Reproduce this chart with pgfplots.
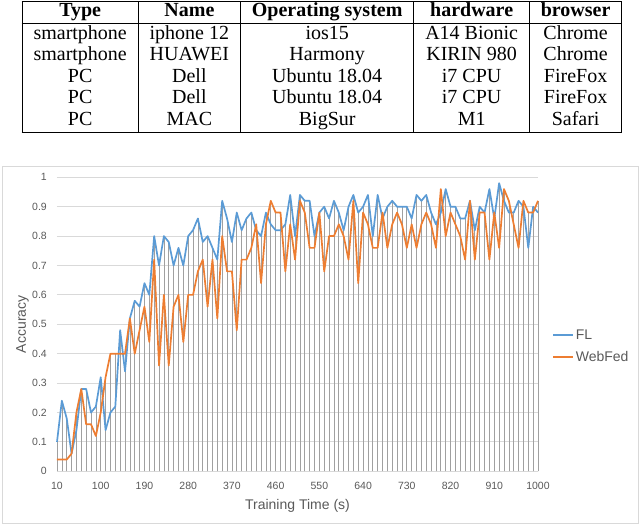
\documentclass[border=0pt]{standalone}
\usepackage{fontspec}
\setmainfont{Liberation Serif}
\newfontfamily\chartfont{Liberation Sans}
\usepackage{pgfplots}
\usepackage{pgfplotstable}
\pgfplotsset{compat=1.18}
\definecolor{flblue}{HTML}{5B9BD5}
\definecolor{wforange}{HTML}{ED7D31}
\definecolor{gridgray}{HTML}{D9D9D9}
\definecolor{txtgray}{HTML}{595959}
\definecolor{dropgray}{HTML}{A0A0A0}

\pgfplotstableread{
x fl wf
10 0.10 0.04
20 0.24 0.04
30 0.18 0.04
40 0.06 0.06
50 0.14 0.20
60 0.28 0.28
70 0.28 0.16
80 0.20 0.16
90 0.22 0.12
100 0.32 0.20
110 0.14 0.32
120 0.20 0.40
130 0.22 0.40
140 0.48 0.40
150 0.34 0.40
160 0.52 0.52
170 0.58 0.40
180 0.56 0.48
190 0.64 0.56
200 0.60 0.44
210 0.80 0.72
220 0.70 0.36
230 0.80 0.60
240 0.78 0.36
250 0.70 0.56
260 0.76 0.60
270 0.70 0.44
280 0.80 0.60
290 0.82 0.60
300 0.86 0.68
310 0.78 0.72
320 0.80 0.56
330 0.76 0.72
340 0.72 0.52
350 0.92 0.80
360 0.86 0.68
370 0.78 0.68
380 0.88 0.48
390 0.82 0.72
400 0.86 0.72
410 0.88 0.76
420 0.82 0.84
430 0.80 0.64
440 0.88 0.84
450 0.84 0.92
460 0.82 0.88
470 0.82 0.88
480 0.84 0.68
490 0.94 0.84
500 0.80 0.72
510 0.94 0.92
520 0.92 0.88
530 0.92 0.76
540 0.80 0.76
550 0.88 0.88
560 0.90 0.68
570 0.86 0.80
580 0.92 0.80
590 0.88 0.84
600 0.82 0.80
610 0.90 0.72
620 0.94 0.92
630 0.88 0.64
640 0.90 0.88
650 0.94 0.84
660 0.80 0.76
670 0.94 0.76
680 0.86 0.88
690 0.90 0.76
700 0.92 0.84
710 0.90 0.88
720 0.90 0.84
730 0.90 0.76
740 0.86 0.84
750 0.94 0.76
760 0.92 0.84
770 0.94 0.88
780 0.88 0.84
790 0.84 0.76
800 0.88 0.96
810 0.96 0.80
820 0.90 0.88
830 0.90 0.84
840 0.86 0.80
850 0.86 0.72
860 0.92 0.92
870 0.82 0.72
880 0.90 0.88
890 0.88 0.88
900 0.96 0.72
910 0.86 0.88
920 0.98 0.76
930 0.92 0.96
940 0.88 0.92
950 0.88 0.84
960 0.92 0.76
970 0.90 0.92
980 0.76 0.88
990 0.90 0.88
1000 0.88 0.92
}\datatable

\begin{document}
\begin{tikzpicture}[x=1pt,y=1pt]
\useasboundingbox (0,0) rectangle (640,525);
\node[anchor=north, inner sep=0pt] at (322,524.5) {\fontsize{20}{21.6}\selectfont\setlength{\tabcolsep}{11pt}\setlength{\arrayrulewidth}{0.8pt}%
\begin{tabular}{|c|c|c|c|c|}
\hline
\textbf{Type} & \textbf{Name} & \textbf{Operating system} & \textbf{hardware} & \textbf{browser}\\
\hline
smartphone & iphone 12 & ios15 & A14 Bionic & Chrome\\
smartphone & HUAWEI & Harmony & KIRIN 980 & Chrome\\
PC & Dell & Ubuntu 18.04 & i7 CPU & FireFox\\
PC & Dell & Ubuntu 18.04 & i7 CPU & FireFox\\
PC & MAC & BigSur & M1 & Safari\\
\hline
\end{tabular}};
\draw[gridgray, line width=0.8pt] (2,2) rectangle (638,359);
\begin{axis}[
  at={(57pt,53.7pt)}, anchor=south west,
  width=481pt, height=294pt, scale only axis,
  xmin=10, xmax=1000, ymin=0, ymax=1,
  axis line style={draw=none},
  major tick length=0pt,
  ymajorgrids, major grid style={gridgray, line width=0.8pt},
  xtick={10,100,190,280,370,460,550,640,730,820,910,1000},
  xticklabels={10,100,190,280,370,460,550,640,730,820,910,1000},
  ytick={0,0.1,0.2,0.3,0.4,0.5,0.6,0.7,0.8,0.9,1},
  yticklabels={0,0.1,0.2,0.3,0.4,0.5,0.6,0.7,0.8,0.9,1},
  /pgf/number format/assume math mode=true,
  tick label style={font=\chartfont\fontsize{10.5}{12}\selectfont, text=txtgray},
  yticklabel style={anchor=east, inner sep=0pt, xshift=-10pt},
  xticklabel style={anchor=north, inner sep=0pt, yshift=-10.5pt},
  xlabel={Training Time (s)}, ylabel={Accuracy},
  label style={font=\chartfont\fontsize{14}{16}\selectfont, text=txtgray},
  xlabel style={at={(axis description cs:0.5,-0.117)}, anchor=center},
  ylabel style={at={(axis description cs:-0.0717,0.5)}, anchor=center},
  legend style={at={(1.029,0.425)}, anchor=west, draw=none, fill=none,
    font=\chartfont\fontsize{14}{16}\selectfont, text=txtgray, row sep=6.5pt,
    inner sep=0pt, legend cell align=left},
  legend image code/.code={\draw[#1, line width=1.7pt] (0pt,0pt) -- (20pt,0pt);},
  clip=false,
]
\addplot[ycomb, dropgray, line width=0.7pt, no marks, forget plot] table[x=x,y=fl]{\datatable};
\addplot[ycomb, dropgray, line width=0.7pt, no marks, forget plot] table[x=x,y=wf]{\datatable};
\addplot[flblue, line width=1.7pt, no marks, line join=round] table[x=x,y=fl]{\datatable};
\addlegendentry{FL}
\addplot[wforange, line width=1.7pt, no marks, line join=round] table[x=x,y=wf]{\datatable};
\addlegendentry{WebFed}
\end{axis}
\end{tikzpicture}
\end{document}
